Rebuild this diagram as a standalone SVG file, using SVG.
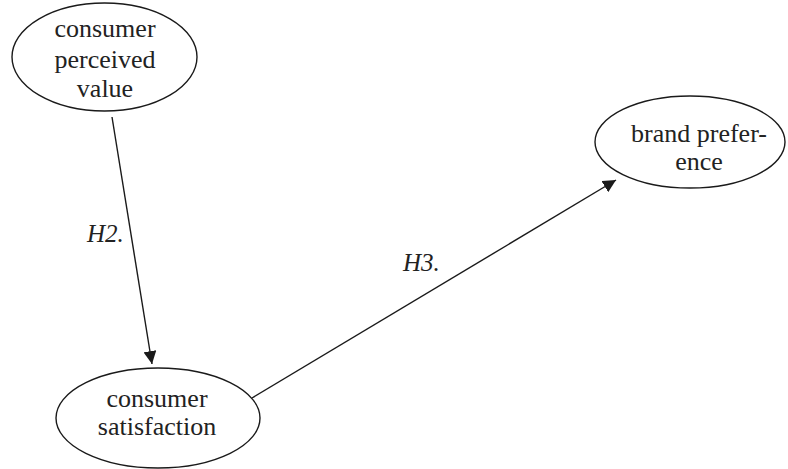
<svg xmlns="http://www.w3.org/2000/svg" width="788" height="469" viewBox="0 0 788 469">
<defs>
<style>
.node ellipse{fill:#fff;stroke:#1a1a1a;stroke-width:1.4}
.node text{font-family:"Liberation Serif","Times New Roman",serif;font-size:26px;fill:#222;text-anchor:middle}
.edge line{stroke:#1a1a1a;stroke-width:1.4}
.lbl{font-family:"Liberation Serif","Times New Roman",serif;font-size:25px;font-style:italic;fill:#222}
</style>
<marker id="ah" viewBox="0 0 10 10" refX="10" refY="5" markerWidth="9" markerHeight="9" markerUnits="userSpaceOnUse" orient="auto">
<path d="M0,0 L10,5 L0,10 z" fill="#1a1a1a"/>
</marker>
<marker id="ah2" viewBox="0 0 10 10" refX="10" refY="5" markerWidth="13" markerHeight="13" markerUnits="userSpaceOnUse" orient="auto">
<path d="M0,0 L10,5 L0,10 z" fill="#1a1a1a"/>
</marker>
</defs>
<g id="connectors" class="edge">
<line x1="112" y1="117" x2="152" y2="364" marker-end="url(#ah2)"/>
<line x1="252" y1="398" x2="616" y2="180" marker-end="url(#ah2)"/>
<text class="lbl" x="87" y="242">H2.</text>
<text class="lbl" x="403" y="271">H3.</text>
</g>
<g id="n1" class="node">
<ellipse cx="104.5" cy="57" rx="92.5" ry="54"/>
<text x="105" y="37">consumer</text>
<text x="105" y="68">perceived</text>
<text x="105" y="97">value</text>
</g>
<g id="n2" class="node">
<ellipse cx="158" cy="418" rx="102" ry="50"/>
<text x="157" y="407">consumer</text>
<text x="157" y="435">satisfaction</text>
</g>
<g id="n3" class="node">
<ellipse cx="690" cy="142" rx="95" ry="46"/>
<text x="699" y="142">brand prefer-</text>
<text x="699" y="170">ence</text>
</g>
</svg>
